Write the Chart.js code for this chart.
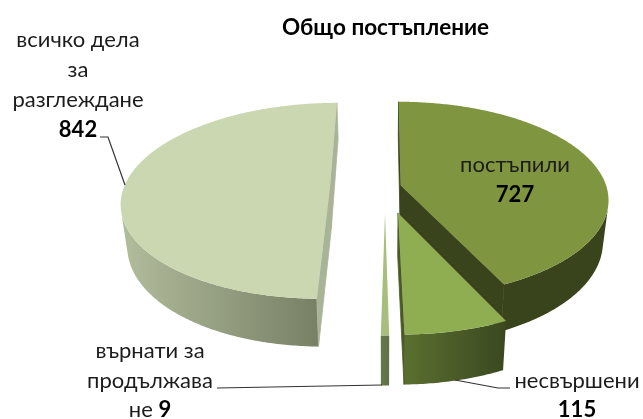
<!DOCTYPE html>
<html>
<head>
<meta charset="utf-8">
<script src="https://cdn.jsdelivr.net/npm/chart.js@4"></script>
<style>
  html, body { margin: 0; padding: 0; background: #fff; }
  canvas { display: block; }
</style>
</head>
<body>
<canvas id="chart" width="643" height="419"></canvas>
<script>
/* ================= DATA ================= */
const categories = ["постъпили", "несвършени", "върнати за продължаване", "всичко дела за разглеждане"];
const values = [727, 115, 9, 842];

/* ================= STYLE ================= */
const topColors = ["#7f9540", "#8fae52", "#a6bf7c", "#cbd7b1"];
const sideFrom = ["#39441c", "#5c7230", "#66794c", "#b2bd9c"];
const sideTo = ["#39441c", "#3b4820", "#5f7148", "#727a60"];
const cutColors = ["#39441c", "#4a5a24", "#66794c", "#a9b398"];
const explode = [16, 55, 55, 55];
const paintOrder = [0, 3, 1, 2];
const FONT = '"Lato", "Open Sans", sans-serif';

/* projection of the flat pie onto the page */
const VX = 385, CY = 187, R = 206, B = 96, P = 0.143, D = 41, K = 0.025;

function project(u, v, z) {
  const s = 1 / (1 - P * v);
  return { x: VX + R * u * s * (1 - z * K), y: CY + B * v * s + z * D * s };
}

function poly(ctx, pts) {
  pts.forEach((p, i) => i ? ctx.lineTo(p.x, p.y) : ctx.moveTo(p.x, p.y));
  ctx.closePath();
}

// walls facing away from the viewer are skipped
function wall(ctx, a, b, c, d) {
  const area = (b.x - a.x) * (c.y - a.y) - (b.y - a.y) * (c.x - a.x);
  if (area < 0) poly(ctx, [a, b, c, d]);
}

/* ---------- pie plugin: takes the angles from the library's arcs ---------- */
const pie3d = {
  id: "pie3d",
  beforeDatasetDraw() { return false; },
  afterDatasetsDraw(chart) {
    const ctx = chart.ctx;
    const arcs = chart.getDatasetMeta(0).data;

    paintOrder.forEach((i) => {
      const arc = arcs[i];
      const mid = (arc.startAngle + arc.endAngle) / 2;
      const o = arc.options.offset / R;
      const cu = Math.cos(mid) * o, cv = Math.sin(mid) * o;

      const ring = [[cu, cv]];
      const n = Math.max(2, Math.ceil((arc.endAngle - arc.startAngle) * 90));
      for (let k = 0; k <= n; k++) {
        const a = arc.startAngle + (arc.endAngle - arc.startAngle) * k / n;
        ring.push([cu + Math.cos(a), cv + Math.sin(a)]);
      }
      const topPts = ring.map((p) => project(p[0], p[1], 0));
      const botPts = ring.map((p) => project(p[0], p[1], 1));
      const last = ring.length - 1;

      const xs = topPts.map((p) => p.x);
      const grad = ctx.createLinearGradient(Math.min(...xs), 0, Math.max(...xs), 0);
      grad.addColorStop(0, sideFrom[i]);
      grad.addColorStop(1, sideTo[i]);

      ctx.save();
      // outer rim
      ctx.fillStyle = grad;
      ctx.beginPath();
      for (let k = 1; k < last; k++) {
        wall(ctx, topPts[k], topPts[k + 1], botPts[k + 1], botPts[k]);
      }
      ctx.fill();

      // cut faces, stroked a little to close the seam against the rim
      ctx.fillStyle = cutColors[i];
      ctx.strokeStyle = cutColors[i];
      ctx.lineWidth = 0.8;
      ctx.beginPath();
      wall(ctx, topPts[0], topPts[1], botPts[1], botPts[0]);
      wall(ctx, topPts[last], topPts[0], botPts[0], botPts[last]);
      ctx.fill();
      ctx.stroke();

      ctx.beginPath();
      poly(ctx, topPts);
      ctx.fillStyle = arc.options.backgroundColor;
      ctx.fill();
      ctx.restore();
    });
  }
};

/* ---------- labels and leader lines ---------- */
const labelBlocks = [
  { x: 78, lines: [["всичко дела", 47], ["за", 77], ["разглеждане", 107]], value: 3, vy: 137 },
  { x: 515, lines: [["постъпили", 172]], value: 0, vy: 202 },
  { x: 577, lines: [["несвършени", 388]], value: 1, vy: 417 },
  { x: 150, lines: [["върнати за", 358], ["продължава", 388]], value: null }
];
const leaders = [
  [[100, 137], [108, 137], [125, 185]],
  [[217, 388], [382, 385]],
  [[510, 388], [498, 388], [455, 380]]
];

const labelsPlugin = {
  id: "labelsPlugin",
  afterDraw(chart) {
    const ctx = chart.ctx;
    ctx.save();
    ctx.textAlign = "center";
    ctx.textBaseline = "alphabetic";
    ctx.fillStyle = "#1c1c1c";

    labelBlocks.forEach((b) => {
      ctx.font = "22px " + FONT;
      b.lines.forEach((l) => ctx.fillText(l[0], b.x, l[1]));
      if (b.value !== null) {
        ctx.font = "bold 22px " + FONT;
        ctx.fillStyle = "#000";
        ctx.fillText(String(values[b.value]), b.x, b.vy);
        ctx.fillStyle = "#1c1c1c";
      }
    });

    /* "не 9" mixes regular and bold on one line */
    ctx.textAlign = "left";
    ctx.font = "22px " + FONT;
    const ne = "не ";
    const neW = ctx.measureText(ne).width;
    ctx.font = "bold 22px " + FONT;
    const numW = ctx.measureText(String(values[2])).width;
    const startX = 150 - (neW + numW) / 2;
    ctx.font = "22px " + FONT;
    ctx.fillText(ne, startX, 417);
    ctx.font = "bold 22px " + FONT;
    ctx.fillStyle = "#000";
    ctx.fillText(String(values[2]), startX + neW, 417);

    ctx.strokeStyle = "#333";
    ctx.lineWidth = 1.2;
    leaders.forEach((pts) => {
      ctx.beginPath();
      pts.forEach((p, i) => i ? ctx.lineTo(p[0], p[1]) : ctx.moveTo(p[0], p[1]));
      ctx.stroke();
    });
    ctx.restore();
  }
};

/* ================= CHART ================= */
new Chart(document.getElementById("chart"), {
  type: "pie",
  data: {
    labels: categories,
    datasets: [{ data: values, backgroundColor: topColors, offset: explode, borderWidth: 0 }]
  },
  options: {
    responsive: false,
    animation: false,
    layout: { padding: { left: 128 } },
    plugins: {
      legend: { display: false },
      tooltip: { enabled: false },
      title: {
        display: true,
        text: "Общо постъпление",
        color: "#000",
        font: { family: FONT, size: 22.5, weight: "bold" },
        padding: { top: 14, bottom: 0 }
      }
    }
  },
  plugins: [pie3d, labelsPlugin]
});
</script>
</body>
</html>
